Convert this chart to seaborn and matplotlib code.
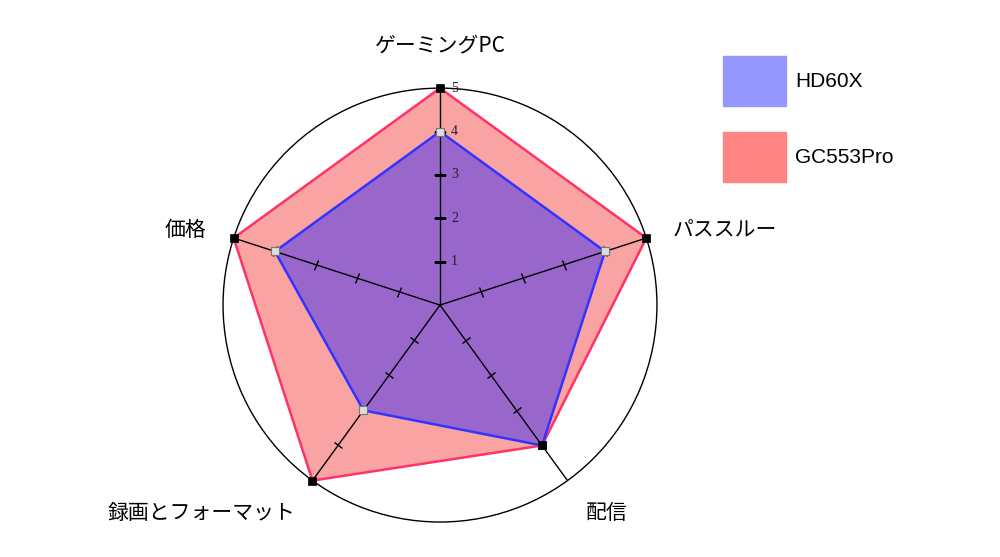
import numpy as np
import pandas as pd
import seaborn as sns
import matplotlib.pyplot as plt
from matplotlib.markers import MarkerStyle
from matplotlib.transforms import Affine2D
from matplotlib.patches import Patch

#%% data
categories = ['ゲーミングPC', 'パススルー', '配信', '録画とフォーマット', '価格']
hd60x = [4, 4, 4, 3, 4]
gc553pro = [5, 5, 4, 5, 5]
r_ticks = [1, 2, 3, 4, 5]

sns.set_theme(style='white')
plt.rcParams['font.family'] = ['Noto Sans CJK JP', 'DejaVu Sans']

angles = np.linspace(0, 2 * np.pi, len(categories), endpoint=False)
th = np.append(angles, angles[0])
hd_c = hd60x + hd60x[:1]
gc_c = gc553pro + gc553pro[:1]

df = pd.DataFrame({'theta': np.concatenate([th, th]),
                   'value': gc_c + hd_c,
                   'device': ['GC553Pro'] * len(th) + ['HD60X'] * len(th)})

fig = plt.figure(figsize=(10, 5.57), dpi=100)
ax = fig.add_axes([0.223, 0.0628, 0.434, 0.779], projection='polar')
ax.set_theta_offset(np.pi / 2)
ax.set_theta_direction(-1)

ax.fill(th, gc_c, color='#f9a3a3', lw=0, zorder=1)
ax.fill(th, hd_c, color='#9966cc', lw=0, zorder=2)
sns.lineplot(data=df, x='theta', y='value', hue='device', hue_order=['GC553Pro', 'HD60X'],
             palette={'GC553Pro': '#ff3366', 'HD60X': '#3333ff'},
             sort=False, estimator=None, lw=1.8, legend=False, ax=ax, zorder=4, clip_on=False)

# axis lines and circle
ax.set_ylim(0, 5)
ax.set_xticks(angles)
ax.set_xticklabels([])
ax.set_yticks([])
ax.set_axisbelow(False)
ax.xaxis.grid(True, color='black', lw=1)
ax.spines['polar'].set_color('black')
ax.spines['polar'].set_linewidth(1)
ax.set_xlabel('')
ax.set_ylabel('')

# small tick marks across each axis
for a in angles:
    m = MarkerStyle('_', transform=Affine2D().rotate_deg(-np.degrees(a)))
    ax.plot([a] * 4, r_ticks[:4], ls='none', marker=m, ms=8, mew=1, color='black', zorder=3)

ax.plot(angles, hd60x, ls='none', marker='s', ms=5.5, mfc='#dddddd', mec='#777777', mew=0.8,
        zorder=5, clip_on=False)
ax.plot(angles, gc553pro, ls='none', marker='s', ms=6, mfc='black', mec='black', mew=0.5,
        zorder=6, clip_on=False)

for r in r_ticks:
    ax.annotate(str(r), xy=(0, r), xytext=(11, 0), textcoords='offset pixels',
                ha='left', va='center', fontsize=10, family='Liberation Serif', color='#222222')

offsets = [((0, 43), 'center'), ((26, 8), 'left'), ((18, -32), 'left'),
           ((-17, -32), 'right'), ((-27, 8), 'right')]
for a, lab, (off, ha) in zip(angles, categories, offsets):
    ax.annotate(lab, xy=(a, 5), xytext=off, textcoords='offset pixels',
                ha=ha, va='center', fontsize=15, color='black', annotation_clip=False)

handles = [Patch(color='#9696ff', label='HD60X'), Patch(color='#ff8585', label='GC553Pro')]
fig.legend(handles=handles, loc='upper left', bbox_to_anchor=(0.723, 0.8995), frameon=False,
           prop={'family': 'Liberation Sans', 'size': 15}, handlelength=3.03, handleheight=3.3,
           labelspacing=1.25, handletextpad=0.43, borderpad=0, borderaxespad=0, labelcolor='black')

fig.savefig('out.png', dpi=100)
